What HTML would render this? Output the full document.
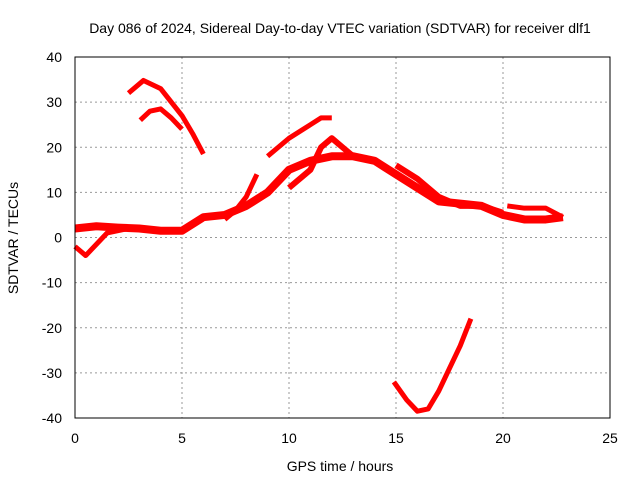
<!DOCTYPE html>
<html><head><meta charset="utf-8"><style>
body{margin:0;background:#fff;}
svg{display:block;font-family:"Liberation Sans",sans-serif;}
</style></head><body>
<svg id="chart" width="640" height="480">
<text x="340" y="33" font-size="14" text-anchor="middle">Day 086 of 2024, Sidereal Day-to-day VTEC variation (SDTVAR) for receiver dlf1</text>
<text x="340" y="471" font-size="14" text-anchor="middle">GPS time / hours</text>
<text x="18" y="238" font-size="14" text-anchor="middle" transform="rotate(-90 18 238)">SDTVAR / TECUs</text>
<g id="grid"></g><g id="series"></g>
<rect x="75" y="57" width="535" height="361" fill="none" stroke="#000"/>
</svg>
<script>
const xTicks=[0,5,10,15,20,25];
const yTicks=[-40,-30,-20,-10,0,10,20,30,40];
const aHours=[2.5,3.2,4,5,5.5,6];
const aValues=[32,34.8,33,27,23,18.5];
const bHours=[3.05,3.5,4,4.5,5];
const bValues=[26,28,28.5,26.5,24];
const cHours=[0,1,2,3,4,5,6,7,8,9,10,11,12,13,14,15,16,17,18,19,20,21,22,22.8];
const cValues=[2,2.5,2.2,2,1.5,1.5,4.5,5,7,10,15,17,18,18,17,14,11,8,7.5,7,5,4,4,4.5];
const dHours=[0,0.5,1.5,2.5];
const dValues=[-2,-4,1,2];
const eHours=[9,10,11,11.5,12];
const eValues=[18,22,25,26.5,26.5];
const fHours=[7,7.5,8,8.5];
const fValues=[4,6,9,14];
const gHours=[10,11,11.5,12,12.5,13];
const gValues=[11,15,20,22,20,18];
const hHours=[15,16,17,18,19,20];
const hValues=[16,13,9,7,7,5.5];
const iHours=[20.2,21,22,22.8];
const iValues=[7,6.5,6.5,4.5];
const jHours=[14.9,15.5,16,16.5,17,17.5,18,18.5];
const jValues=[-32,-36,-38.5,-38,-34,-29,-24,-18];
const NS="http://www.w3.org/2000/svg";
const X=h=>75+h*535/25, Y=v=>418-(v+40)*361/80;
const grid=document.getElementById('grid');
function mk(t,a,p){const e=document.createElementNS(NS,t);for(const k in a)e.setAttribute(k,a[k]);p.appendChild(e);return e;}
xTicks.forEach(t=>{
 if(t>0&&t<25){const l=mk('line',{x1:X(t),x2:X(t),y1:57,y2:418,stroke:'#999','stroke-dasharray':'2,3'},grid);
 
 }
 const s=mk('text',{x:X(t),y:443,'font-size':14,'text-anchor':'middle'},grid);s.textContent=t;
 
 
});
yTicks.forEach(t=>{
 if(t>-40&&t<40){const l=mk('line',{x1:75,x2:610,y1:Y(t),y2:Y(t),stroke:'#999','stroke-dasharray':'2,3'},grid);
 
 }
 const s=mk('text',{x:62,y:Y(t)+5,'font-size':14,'text-anchor':'end'},grid);s.textContent=t;
 
 
});
const sg=document.getElementById('series');
[[aHours,aValues,5],[bHours,bValues,5],[cHours,cValues,8],[dHours,dValues,5],[eHours,eValues,5],[fHours,fValues,5],[gHours,gValues,6],[hHours,hValues,6],[iHours,iValues,5],[jHours,jValues,5]].forEach(([hs,vs,w])=>{
 const p=mk('polyline',{points:hs.map((h,i)=>X(h)+','+Y(vs[i])).join(' '),fill:'none',stroke:'#f00','stroke-width':w,'stroke-linejoin':'round'},sg);
 
 
});
</script>
</body></html>
